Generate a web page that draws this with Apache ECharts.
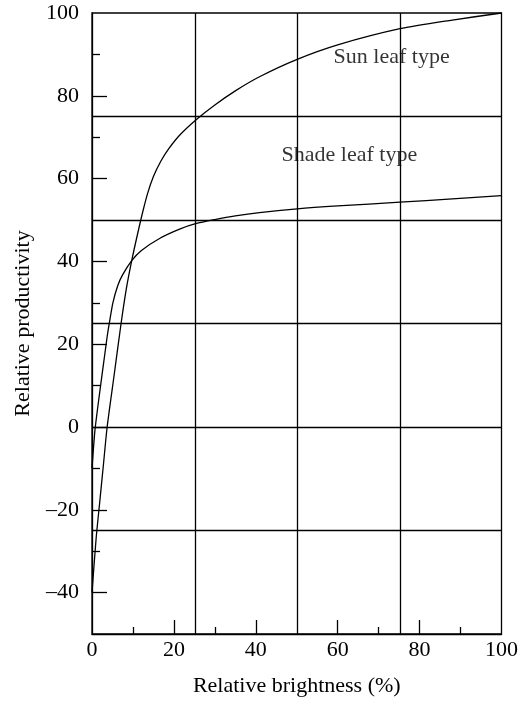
<!DOCTYPE html>
<html>
<head>
<meta charset="utf-8">
<script src="https://cdn.jsdelivr.net/npm/echarts@6/dist/echarts.min.js"></script>
<style>
html,body{margin:0;padding:0;background:#fff;}
#chart{width:521px;height:702px;}
</style>
</head>
<body>
<div id="chart"></div>
<script>
// Sun leaf type curve
var sunX = [0, 1.0, 1.9, 2.8, 3.7, 5.4, 7.1, 8.4, 9.7, 11.1, 12.4, 13.6, 15.0, 16.8, 18.8, 21.5, 25.5, 30, 35, 40.9, 50.1, 60, 75.2, 88, 100];
var sunY = [-40, -27, -18, -9, 0, 12.5, 25, 33.5, 40.2, 46.5, 52, 56.5, 60.5, 64.2, 67.3, 70.6, 74.3, 77.8, 81.2, 84.6, 88.8, 92.3, 96.2, 98.3, 100];
// Shade leaf type curve
var shadeX = [0, 0.7, 1.5, 2.3, 3.1, 3.7, 4.3, 5.1, 6.3, 7.5, 9.7, 12.0, 16.6, 21.4, 25.3, 30, 35, 40.9, 50.1, 60, 75.2, 88, 100];
var shadeY = [-10, -1, 5.5, 11.5, 17.4, 21.8, 25.5, 30, 34.2, 36.8, 40.2, 42.6, 45.6, 47.8, 49.1, 50.1, 51.0, 51.8, 52.7, 53.4, 54.3, 55.1, 55.9];
// Reference grid lines
var vGridLines = [25.3, 50.1, 75.2];
var hGridLines = [75, 50, 25, 0, -25];
// Tick values
var xLabelTicks = [0, 20, 40, 60, 80, 100];
var xMajorTicks = [20, 40, 60, 80];
var xMinorTicks = [10, 30, 70, 90];
var yLabelTicks = [-40, -20, 0, 20, 40, 60, 80, 100];
var yMajorTicks = [-40, -20, 0, 20, 40, 60, 80];
var yMinorTicks = [-30, -10, 10, 30, 70, 90];
// Curve labels
var curveNames = ['Sun leaf type', 'Shade leaf type'];

function zip(xs, ys){ return xs.map(function(x,i){ return [x, ys[i]]; }); }

var FONT = 'Liberation Serif';
var BLACK = '#000';
var LW = 1.3;

var chart = echarts.init(document.getElementById('chart'));
var option = {
  animation: false,
  backgroundColor: '#fff',
  textStyle: {fontFamily: FONT, color: BLACK},
  grid: {left: 92, top: 13, right: 18.5, bottom: 65.5, show: true, borderColor: BLACK, borderWidth: LW, backgroundColor: 'transparent'},
  xAxis: [
    {
      type: 'value', min: 0, max: 100, position: 'bottom',
      name: 'Relative brightness (%)', nameLocation: 'middle', nameGap: 41,
      nameTextStyle: {fontFamily: FONT, fontSize: 22, color: BLACK},
      axisLine: {show: true, onZero: false, lineStyle: {color: BLACK, width: LW}},
      axisTick: {show: true, inside: true, length: 14, customValues: xMajorTicks, lineStyle: {color: BLACK, width: LW}},
      axisLabel: {show: true, customValues: xLabelTicks, margin: 5, fontFamily: FONT, fontSize: 22, color: BLACK},
      splitLine: {show: false}
    },
    {
      type: 'value', min: 0, max: 100, position: 'bottom',
      axisLine: {show: false, onZero: false},
      axisTick: {show: true, inside: true, length: 7, customValues: xMinorTicks, lineStyle: {color: BLACK, width: LW}},
      axisLabel: {show: false},
      splitLine: {show: false}
    }
  ],
  yAxis: [
    {
      type: 'value', min: -50, max: 100, position: 'left',
      name: 'Relative productivity', nameLocation: 'middle', nameGap: 58,
      nameTextStyle: {fontFamily: FONT, fontSize: 22, color: BLACK},
      axisLine: {show: true, onZero: false, lineStyle: {color: BLACK, width: LW}},
      axisTick: {show: true, inside: true, length: 15, customValues: yMajorTicks, lineStyle: {color: BLACK, width: LW}},
      axisLabel: {
        show: true, customValues: yLabelTicks, margin: 13, fontFamily: FONT, fontSize: 22, color: BLACK,
        formatter: function(v){ return v < 0 ? '\u2013' + Math.abs(v) : String(v); }
      },
      splitLine: {show: false}
    },
    {
      type: 'value', min: -50, max: 100, position: 'left',
      axisLine: {show: false, onZero: false},
      axisTick: {show: true, inside: true, length: 8, customValues: yMinorTicks, lineStyle: {color: BLACK, width: LW}},
      axisLabel: {show: false},
      splitLine: {show: false}
    }
  ],
  series: [
    {
      type: 'line', name: 'grid', data: [], silent: true,
      markLine: {
        silent: true, symbol: 'none', animation: false,
        label: {show: false},
        lineStyle: {color: BLACK, width: LW, type: 'solid'},
        data: vGridLines.map(function(v){ return {xAxis: v}; }).concat(hGridLines.map(function(v){ return {yAxis: v}; }))
      }
    },
    {
      type: 'line', name: curveNames[0], data: zip(sunX, sunY), smooth: 0.25, showSymbol: false, symbol: 'none',
      lineStyle: {color: BLACK, width: LW}, z: 3
    },
    {
      type: 'line', name: curveNames[1], data: zip(shadeX, shadeY), smooth: 0.25, showSymbol: false, symbol: 'none',
      lineStyle: {color: BLACK, width: LW}, z: 3
    },
    {
      type: 'scatter', symbolSize: 0, silent: true,
      data: [
        {value: [59.0, 89.4], name: curveNames[0]},
        {value: [46.3, 65.6], name: curveNames[1]}
      ],
      label: {
        show: true, position: 'right', distance: 0, formatter: '{b}',
        fontFamily: FONT, fontSize: 22, color: BLACK
      }
    }
  ]
};
chart.setOption(option);
</script>
</body>
</html>
